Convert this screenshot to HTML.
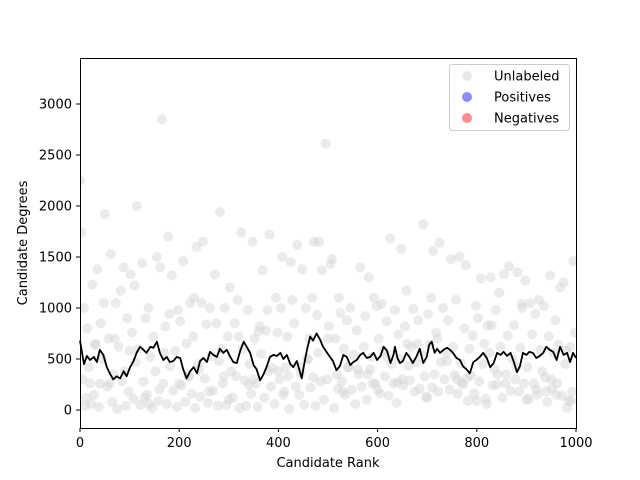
<!DOCTYPE html>
<html><head><meta charset="utf-8"><style>
body{margin:0;background:#fff;}
svg{display:block;font-family:"DejaVu Sans","Liberation Sans",sans-serif;}
</style></head><body>
<svg id="chart" width="640" height="480">
<defs><clipPath id="cp"><rect x="80" y="58" width="497" height="371"/></clipPath></defs>
<rect x="0" y="0" width="640" height="480" fill="#fff"/>
<g id="pts" clip-path="url(#cp)"></g>
<polyline id="line" fill="none" stroke="#000" stroke-width="1.8" stroke-linejoin="round"/>
<rect x="80.5" y="58.5" width="496" height="370" fill="none" stroke="#000" stroke-width="1"/>
<g id="xt"></g>
<g id="yt"></g>
<text x="328" y="467" font-size="13" text-anchor="middle">Candidate Rank</text>
<text x="0" y="0" font-size="13" text-anchor="middle" transform="translate(27,243) rotate(-90)">Candidate Degrees</text>
<g>
<rect x="449.5" y="64.5" width="120" height="66" rx="3" fill="#fff" fill-opacity="0.8" stroke="#ccc"/>
<circle cx="467" cy="76" r="5" fill="#d3d3d3" fill-opacity="0.5"/>
<text x="494" y="80.5" font-size="13">Unlabeled</text>
<circle cx="467" cy="97" r="5" fill="#0000ff" fill-opacity="0.45"/>
<text x="494" y="101.5" font-size="13">Positives</text>
<circle cx="467" cy="118" r="5" fill="#ff0000" fill-opacity="0.45"/>
<text x="494" y="122.5" font-size="13">Negatives</text>
</g>
</svg>
<script>
const xTicks=[0,200,400,600,800,1000];
const yTicks=[0,500,1000,1500,2000,2500,3000];
const ptRanks=[0,3,5,8,12,15,18,22,25,28,32,35,38,42,45,48,50,55,58,62,65,68,72,75,78,82,85,88,92,95,98,102,105,108,112,115,118,122,125,128,132,135,138,142,145,148,152,155,158,162,165,168,172,175,178,182,185,188,192,195,198,202,205,208,212,215,218,222,225,228,232,235,238,242,245,248,252,255,258,262,265,268,272,275,278,282,285,288,292,295,298,302,305,308,312,315,318,322,325,328,332,335,338,342,345,348,352,355,358,362,365,368,372,375,378,382,385,388,392,395,398,402,405,408,412,415,418,422,425,428,432,435,438,442,445,448,452,455,458,462,465,468,472,475,478,482,485,488,492,495,498,502,505,508,512,515,518,522,525,528,532,535,538,542,545,548,552,555,558,562,565,568,572,575,578,582,585,588,592,595,598,602,605,608,612,615,618,622,625,628,632,635,638,642,645,648,652,655,658,662,665,668,672,675,678,682,685,688,692,695,698,702,705,708,712,715,718,722,725,728,732,735,738,742,745,748,752,755,758,762,765,768,772,775,778,782,785,788,792,795,798,802,805,808,812,815,818,822,825,828,832,835,838,842,845,848,852,855,858,862,865,868,872,875,878,882,885,888,892,895,898,902,905,908,912,915,918,922,925,928,932,935,938,942,945,948,952,955,958,962,965,968,972,975,978,982,985,988,992,995,998,10,30,60,90,110,140,170,200,230,260,290,320,350,380,410,440,470,500,530,560,590,620,650,680,710,740,770,800,830,860,890,920,950,980,20,70,130,180,240,300,360,420,480,540,600,660,720,780,840,900,960,40,100,160,220,280,340,400,460,520,580,640,700,760,820,880,940,990];
const ptDeg=[2250,1740,300,1000,120,800,420,60,1230,150,650,1380,30,850,500,1050,1920,230,700,1530,80,350,1050,10,620,1170,280,1400,40,900,180,1330,760,110,470,2000,600,50,1440,280,900,150,1000,520,20,720,380,1500,90,1400,2850,260,820,60,1700,430,1320,190,580,30,980,870,240,1460,80,650,330,1050,160,720,20,1600,450,130,1050,1650,310,840,70,1000,530,190,1330,850,40,1940,600,260,1000,50,720,1200,380,120,850,330,1080,20,1740,600,290,40,980,450,160,1650,700,260,30,820,550,1370,120,780,980,1720,230,410,60,1100,760,300,1000,1500,180,420,720,10,1450,1080,850,230,1620,150,360,1380,50,1000,500,700,220,1100,1650,40,930,1650,280,1370,100,2610,300,820,1430,1480,20,700,350,1100,950,280,600,150,880,420,1000,200,540,60,780,350,1400,230,620,920,100,1300,400,520,1100,260,1020,700,160,1040,580,330,870,140,1680,450,260,980,70,740,500,1580,240,820,1170,430,290,620,990,180,470,880,210,560,1820,330,130,940,640,1100,1560,350,760,180,1640,470,1000,300,560,880,200,1480,620,340,1080,160,1500,460,250,800,1420,90,600,340,730,160,1020,900,280,1290,450,650,110,830,560,1300,240,400,980,350,1150,620,120,1330,260,730,1410,190,500,830,300,1350,180,610,1000,260,1270,420,110,1050,740,260,940,150,1080,590,380,1020,320,80,720,1320,210,560,880,260,640,1200,140,1250,450,20,90,620,180,1460,760,40,640,260,380,1220,60,560,260,1100,180,330,720,300,380,150,430,320,700,180,400,260,520,300,650,220,480,270,90,830,350,1040,200,300,580,260,700,120,940,400,100,770,330,560,420,200,650,700,310,250,100,150,260,580,200,330,480,250,380,500,210,350,270,120,300,60,420,180,90,350,240,150,60,400,200,310,120,260,90,170,330,60,220,140,380,260,80,190,310,110,240,350,150];
const lineRanks=[0,8,14,20,28,34,40,47,54,60,67,74,81,88,94,101,108,114,121,128,134,142,148,155,161,168,175,181,188,195,202,208,215,222,229,236,242,249,256,262,269,276,282,289,296,302,309,316,323,330,336,343,350,356,363,370,376,383,390,397,404,410,417,424,430,437,442,447,452,458,464,470,477,484,490,497,504,510,517,524,531,538,545,551,558,565,571,578,585,592,599,606,612,619,626,632,635,640,645,651,658,664,671,678,685,692,699,704,709,715,720,726,733,740,746,752,759,766,772,779,786,793,799,806,813,820,827,834,841,848,854,861,868,874,881,887,893,900,906,913,920,927,934,940,947,954,961,968,975,982,988,994,1000];
const lineVals=[680,450,530,490,520,470,590,540,420,360,300,330,310,380,330,420,480,560,620,590,560,620,610,670,560,490,520,470,480,520,510,400,310,380,420,360,480,510,470,570,540,520,600,560,590,530,470,460,580,670,620,560,440,400,290,350,420,520,540,530,560,500,540,450,420,480,400,310,450,600,720,680,750,690,620,570,520,480,390,430,540,520,440,470,490,540,560,510,520,560,490,530,620,580,460,540,620,510,460,480,560,520,460,520,600,460,520,640,670,560,600,560,590,610,590,560,510,490,430,400,360,470,490,520,560,510,420,460,560,540,570,530,560,480,370,430,560,540,570,560,510,530,560,620,590,570,490,620,540,560,470,560,510];
const X0=80,XW=496,YZ=410,YK=0.102;
const sx=v=>X0+v/1000*XW, sy=v=>YZ-v*YK;
const NS='http://www.w3.org/2000/svg';
const pts=document.getElementById('pts');
const nPts=Math.min(ptRanks.length,ptDeg.length);
for(let i=0;i<nPts;i++){
  const c=document.createElementNS(NS,'circle');
  c.setAttribute('cx',sx(ptRanks[i]));c.setAttribute('cy',sy(ptDeg[i]));c.setAttribute('r',5);
  c.setAttribute('fill','#d3d3d3');c.setAttribute('fill-opacity','0.45');
  
  
  pts.appendChild(c);
}
const nL=Math.min(lineRanks.length,lineVals.length);
const lp=[];for(let i=0;i<nL;i++)lp.push(sx(lineRanks[i])+','+sy(lineVals[i]));
document.getElementById('line').setAttribute('points',lp.join(' '));
const xt=document.getElementById('xt');
xTicks.forEach(t=>{
  const g=document.createElementNS(NS,'g');
  
  
  const x=sx(t);
  g.innerHTML=`<line x1="${x}" x2="${x}" y1="428" y2="432" stroke="#000"/><text x="${x}" y="447" font-size="13" text-anchor="middle">${t}</text>`;
  xt.appendChild(g);
});
const yt=document.getElementById('yt');
yTicks.forEach(t=>{
  const g=document.createElementNS(NS,'g');
  
  
  const y=sy(t);
  g.innerHTML=`<line x1="76" x2="80" y1="${y}" y2="${y}" stroke="#000"/><text x="72" y="${y+4.5}" font-size="13" text-anchor="end">${t}</text>`;
  yt.appendChild(g);
});
</script>
</body></html>
